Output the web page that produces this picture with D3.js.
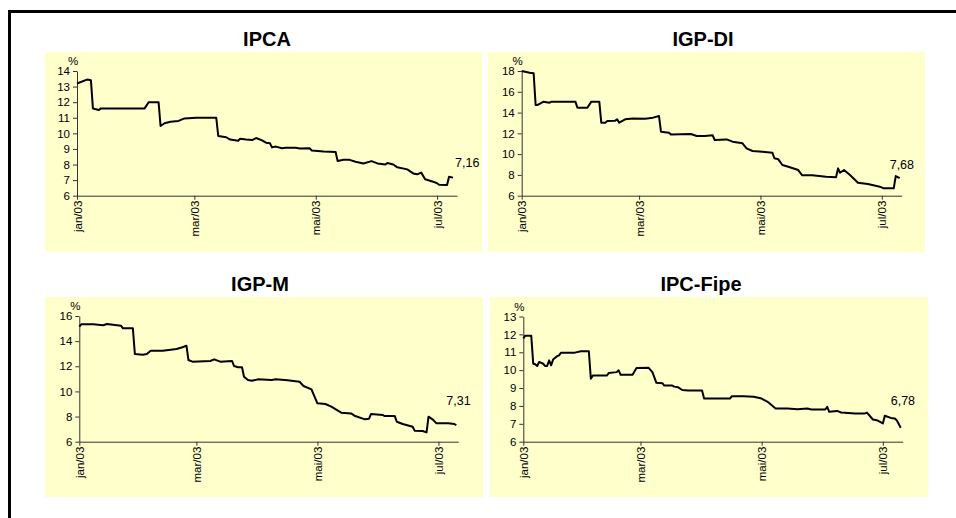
<!DOCTYPE html>
<html><head><meta charset="utf-8">
<script src="https://cdn.jsdelivr.net/npm/d3@7"></script>
<style>
body{margin:0;background:#fff}
svg{display:block;font-family:Arial,"Liberation Sans",Helvetica,sans-serif}
</style>
</head><body>
<svg id="c" width="956" height="518"></svg>
<script>
// ---------- data ----------
const tickDates = ["2003-01-01","2003-03-01","2003-05-01","2003-07-01"];
const tickLabels = ["jan/03","mar/03","mai/03","jul/03"];
const titles = ["IPCA","IGP-DI","IGP-M","IPC-Fipe"];
const lastLabels = ["7,16","7,68","7,31","6,78"];
const yTicksIpca = [6,7,8,9,10,11,12,13,14];
const yTicksIgpdi = [6,8,10,12,14,16,18];
const yTicksIgpm = [6,8,10,12,14,16];
const yTicksFipe = [6,7,8,9,10,11,12,13];

const ipca = [["2003-01-01",13.2],["2003-01-06",13.45],["2003-01-08",13.4],["2003-01-09",11.6],["2003-01-12",11.5],["2003-01-13",11.6],["2003-02-04",11.6],["2003-02-06",12.0],["2003-02-11",12.0],["2003-02-12",10.47],["2003-02-14",10.65],["2003-02-17",10.75],["2003-02-21",10.8],["2003-02-24",10.96],["2003-03-02",11.0],["2003-03-12",11.0],["2003-03-13",9.83],["2003-03-17",9.75],["2003-03-19",9.6],["2003-03-23",9.53],["2003-03-24",9.65],["2003-03-27",9.6],["2003-03-30",9.57],["2003-04-01",9.7],["2003-04-04",9.55],["2003-04-06",9.4],["2003-04-08",9.36],["2003-04-09",9.1],["2003-04-11",9.15],["2003-04-14",9.05],["2003-04-16",9.08],["2003-04-21",9.08],["2003-04-23",9.03],["2003-04-28",9.04],["2003-04-29",8.9],["2003-05-05",8.83],["2003-05-11",8.8],["2003-05-12",8.22],["2003-05-15",8.3],["2003-05-18",8.3],["2003-05-21",8.18],["2003-05-25",8.07],["2003-05-29",8.22],["2003-06-01",8.07],["2003-06-05",8.0],["2003-06-06",8.1],["2003-06-09",8.0],["2003-06-11",7.82],["2003-06-16",7.69],["2003-06-19",7.43],["2003-06-21",7.37],["2003-06-23",7.48],["2003-06-25",7.05],["2003-06-29",6.9],["2003-07-01",6.8],["2003-07-02",6.7],["2003-07-06",6.68],["2003-07-07",7.22],["2003-07-09",7.16]];

const igpdi = [["2003-01-01",18.0],["2003-01-05",17.84],["2003-01-07",17.78],["2003-01-08",14.73],["2003-01-09",14.73],["2003-01-12",15.05],["2003-01-15",14.95],["2003-01-16",15.05],["2003-01-28",15.05],["2003-01-29",14.47],["2003-02-03",14.47],["2003-02-05",15.05],["2003-02-09",15.05],["2003-02-10",13.03],["2003-02-12",13.03],["2003-02-13",13.19],["2003-02-17",13.22],["2003-02-18",13.35],["2003-02-19",13.03],["2003-02-22",13.35],["2003-02-26",13.44],["2003-03-04",13.41],["2003-03-08",13.51],["2003-03-11",13.67],["2003-03-12",12.16],["2003-03-16",12.06],["2003-03-17",11.9],["2003-03-27",11.94],["2003-03-30",11.74],["2003-04-03",11.74],["2003-04-07",11.81],["2003-04-08",11.36],["2003-04-14",11.42],["2003-04-17",11.2],["2003-04-22",11.04],["2003-04-24",10.56],["2003-04-27",10.3],["2003-05-02",10.24],["2003-05-07",10.14],["2003-05-08",9.6],["2003-05-10",9.5],["2003-05-12",8.95],["2003-05-15",8.79],["2003-05-20",8.47],["2003-05-22",7.96],["2003-05-27",7.96],["2003-06-03",7.83],["2003-06-08",7.77],["2003-06-09",8.63],["2003-06-10",8.21],["2003-06-12",8.47],["2003-06-15",7.99],["2003-06-19",7.25],["2003-06-24",7.12],["2003-06-30",6.87],["2003-07-02",6.71],["2003-07-07",6.71],["2003-07-08",7.89],["2003-07-10",7.68]];

const igpm = [["2003-01-01",15.15],["2003-01-02",15.34],["2003-01-08",15.34],["2003-01-13",15.26],["2003-01-15",15.36],["2003-01-22",15.23],["2003-01-23",15.02],["2003-01-28",15.02],["2003-01-29",12.98],["2003-02-02",12.92],["2003-02-04",12.98],["2003-02-06",13.24],["2003-02-12",13.24],["2003-02-19",13.37],["2003-02-22",13.51],["2003-02-24",13.64],["2003-02-25",12.5],["2003-02-27",12.37],["2003-03-08",12.42],["2003-03-10",12.55],["2003-03-13",12.37],["2003-03-19",12.42],["2003-03-20",12.02],["2003-03-22",11.92],["2003-03-24",11.92],["2003-03-25",11.17],["2003-03-27",10.91],["2003-03-29",10.85],["2003-04-01",10.96],["2003-04-08",10.91],["2003-04-10",10.96],["2003-04-16",10.88],["2003-04-22",10.77],["2003-04-24",10.43],["2003-04-28",10.16],["2003-05-01",9.05],["2003-05-05",9.0],["2003-05-08",8.79],["2003-05-13",8.31],["2003-05-18",8.25],["2003-05-20",8.04],["2003-05-25",7.78],["2003-05-27",7.83],["2003-05-28",8.2],["2003-06-03",8.12],["2003-06-04",8.04],["2003-06-09",8.04],["2003-06-10",7.59],["2003-06-13",7.41],["2003-06-18",7.19],["2003-06-19",6.88],["2003-06-23",6.85],["2003-06-25",6.74],["2003-06-26",7.99],["2003-06-28",7.78],["2003-06-30",7.46],["2003-07-06",7.46],["2003-07-09",7.41],["2003-07-10",7.31]];

const fipe = [["2003-01-01",11.78],["2003-01-02",11.93],["2003-01-05",11.93],["2003-01-06",10.36],["2003-01-07",10.33],["2003-01-08",10.23],["2003-01-09",10.46],["2003-01-11",10.36],["2003-01-12",10.23],["2003-01-13",10.23],["2003-01-14",10.55],["2003-01-15",10.27],["2003-01-16",10.59],["2003-01-18",10.78],["2003-01-19",10.83],["2003-01-20",10.98],["2003-01-27",10.98],["2003-01-30",11.06],["2003-02-03",11.06],["2003-02-04",9.52],["2003-02-05",9.7],["2003-02-12",9.7],["2003-02-13",9.84],["2003-02-17",9.89],["2003-02-18",9.99],["2003-02-19",9.74],["2003-02-25",9.74],["2003-02-27",10.12],["2003-03-05",10.14],["2003-03-07",9.89],["2003-03-09",9.29],["2003-03-12",9.27],["2003-03-13",9.14],["2003-03-17",9.14],["2003-03-18",9.08],["2003-03-20",9.04],["2003-03-22",8.89],["2003-03-25",8.86],["2003-04-01",8.86],["2003-04-02",8.41],["2003-04-15",8.41],["2003-04-16",8.54],["2003-04-22",8.54],["2003-04-27",8.51],["2003-05-01",8.41],["2003-05-04",8.23],["2003-05-08",7.86],["2003-05-14",7.86],["2003-05-19",7.82],["2003-05-24",7.86],["2003-05-26",7.8],["2003-06-02",7.8],["2003-06-03",7.95],["2003-06-04",7.67],["2003-06-08",7.72],["2003-06-10",7.63],["2003-06-17",7.58],["2003-06-22",7.58],["2003-06-23",7.63],["2003-06-26",7.24],["2003-06-28",7.2],["2003-07-01",7.02],["2003-07-02",7.45],["2003-07-05",7.33],["2003-07-07",7.3],["2003-07-08",7.2],["2003-07-10",6.78]];

// ---------- layout ----------
const parse = d3.timeParse("%Y-%m-%d");
const xDomain = [parse("2003-01-01"), parse("2003-07-11")];
const panels = [
  {title:titles[0], data:ipca,  yDom:[6,14], yTicks:yTicksIpca,  bg:[45,52,437,200],  px:77,    py:71,    pw:380, ph:124.7, tx:267, ty:46,  lab:lastLabels[0], ldx:2,   ly:167},
  {title:titles[1], data:igpdi, yDom:[6,18], yTicks:yTicksIgpdi, bg:[488,52,437,200], px:521.7, py:71,    pw:380, ph:124.7, tx:703, ty:46,  lab:lastLabels[1], ldx:-10, ly:169},
  {title:titles[2], data:igpm,  yDom:[6,16], yTicks:yTicksIgpm,  bg:[45,297,438,200], px:79.3,  py:316,   pw:379, ph:125.7, tx:260, ty:291, lab:lastLabels[2], ldx:-10, ly:405},
  {title:titles[3], data:fipe,  yDom:[6,13], yTicks:yTicksFipe,  bg:[490,297,438,200],px:523.3, py:316.5, pw:379.4, ph:125.2, tx:701, ty:291, lab:lastLabels[3], ldx:-10, ly:405}
];

const svg = d3.select("#c");
svg.append("rect").attr("width",956).attr("height",518).attr("fill","#fff");

panels.forEach(p => {
  svg.append("rect").attr("x",p.bg[0]).attr("y",p.bg[1]).attr("width",p.bg[2]).attr("height",p.bg[3]).attr("fill","#FFFFCC");
  svg.append("text").attr("x",p.tx).attr("y",p.ty).attr("text-anchor","middle")
    .attr("font-size",20).attr("font-weight","bold").attr("fill","#000").text(p.title);

  const g = svg.append("g").attr("transform",`translate(${p.px},${p.py})`);
  const x = d3.scaleTime().domain(xDomain).range([0,p.pw]);
  const y = d3.scaleLinear().domain(p.yDom).range([p.ph,0]);

  const ya = g.append("g").call(d3.axisLeft(y).tickValues(p.yTicks).tickSize(4).tickSizeOuter(0).tickPadding(3).tickFormat(d3.format("d")));
  const xa = g.append("g").attr("transform",`translate(0,${p.ph})`)
    .call(d3.axisBottom(x).tickValues(tickDates.map(parse)).tickSize(4).tickSizeOuter(0).tickFormat((d,i)=>tickLabels[i]));
  [ya,xa].forEach(a=>{
    a.attr("font-family",null).attr("font-size",null);
    a.selectAll("path,line").attr("stroke","#333");
    a.selectAll("text").attr("font-size",11.5).attr("fill","#000");
  });
  xa.selectAll("text").attr("transform","rotate(-90)").attr("x",-5).attr("y",0).attr("dy","0.35em").attr("text-anchor","end");

  g.append("text").attr("x",-4).attr("y",-6).attr("text-anchor","middle").attr("font-size",11.5).text("%");

  const line = d3.line().x(d=>x(parse(d[0]))).y(d=>y(d[1]));
  g.append("path").datum(p.data).attr("d",line).attr("fill","none").attr("stroke","#000")
    .attr("stroke-width",2).attr("stroke-linejoin","round");

  const last = p.data[p.data.length-1];
  g.append("text").attr("x",x(parse(last[0]))+p.ldx).attr("y",p.ly-p.py)
    .attr("font-size",12.5).attr("fill","#000").text(p.lab);
});

// outer frame (extends past right and bottom edges)
svg.append("rect").attr("x",9.5).attr("y",11.5).attr("width",1000).attr("height",600)
  .attr("fill","none").attr("stroke","#000").attr("stroke-width",3);
</script>
</body></html>
